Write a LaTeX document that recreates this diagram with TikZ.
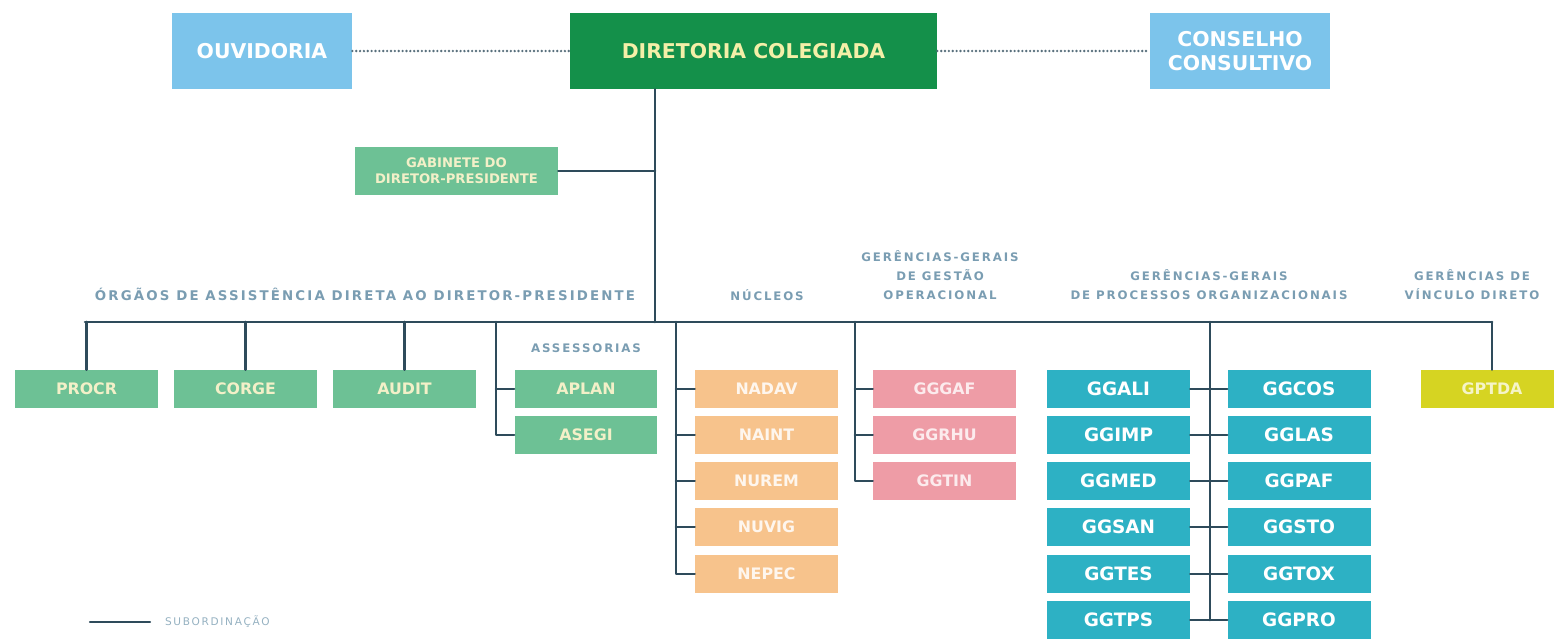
\documentclass[tikz,border=0pt]{standalone}
\usepackage{fontspec}
\setmainfont{DejaVu Sans}
\newfontfamily\headfont{DejaVu Sans}[LetterSpace=16]
\definecolor{skyblue}{HTML}{7CC4EB}
\definecolor{boardgreen}{HTML}{14904A}
\definecolor{paleyellow}{HTML}{F4EFA8}
\definecolor{mint}{HTML}{6DC195}
\definecolor{cream}{HTML}{F3F0C8}
\definecolor{peach}{HTML}{F7C38C}
\definecolor{rose}{HTML}{EE9CA6}
\definecolor{ggteal}{HTML}{2DB1C4}
\definecolor{mustard}{HTML}{D6D422}
\definecolor{slate}{HTML}{2E4B5B}
\definecolor{headgray}{HTML}{7A9DB2}
\tikzset{
every picture/.append style={
    line join=round,
    line cap=round
  },
topbox/.style={font=\bfseries\fontsize{11.6}{14}\selectfont, text=white, minimum width=3.6cm, minimum height=1.52cm, inner sep=0pt, align=center},
unitbox/.style={font=\bfseries\fontsize{9}{11}\selectfont, minimum width=2.86cm, minimum height=0.76cm, inner sep=0pt},
greenbox/.style={unitbox, fill=mint, text=cream},
peachbox/.style={unitbox, fill=peach, text=white!85!peach},
rosebox/.style={unitbox, fill=rose, text=white!80!rose},
tealbox/.style={unitbox, fill=ggteal, text=white, font=\bfseries\fontsize{10.5}{12}\selectfont},
sub/.style={draw=slate, line width=1.5pt},
tie/.style={draw=slate!80, line width=1.5pt, dash pattern=on 0pt off 2.2pt, line cap=round},
head/.style={font=\headfont\bfseries\fontsize{7.6}{10.8}\selectfont, text=headgray, align=center, inner sep=0pt, anchor=base},
headsmall/.style={head, font=\headfont\bfseries\fontsize{6.7}{10.8}\selectfont}
}
\begin{document}
\begin{tikzpicture}[x=0.02cm,y=-0.02cm]
\useasboundingbox (0,0) rectangle (1554,640);

\node[topbox, fill=skyblue] (ouv) at (262,51) {OUVIDORIA};
\node[topbox, fill=boardgreen, text=paleyellow, minimum width=7.34cm] (dir) at (753.5,51) {DIRETORIA COLEGIADA};
\node[topbox, fill=skyblue] (cons) at (1240,51) {CONSELHO\\CONSULTIVO};
\draw [tie] (ouv) -- (dir);
\draw [tie] (dir) -- (cons);

\coordinate (hub) at (655,322);
\coordinate (busl) at (85,322);
\coordinate (busr) at (1492,322);
\draw [sub] (hub |- dir.south) -- (hub);
\draw [sub] (busl) -- (busr);

\node[greenbox, minimum width=4.06cm, minimum height=0.96cm, align=center, font=\bfseries\fontsize{7.5}{9}\selectfont] (gab) at (456.5,171) {GABINETE DO\\DIRETOR-PRESIDENTE};
\draw [sub] (gab.east) -- (gab.east -| hub);

\node[head] (horg) at (365,300) {ÓRGÃOS DE ASSISTÊNCIA DIRETA AO DIRETOR-PRESIDENTE};
\node[headsmall] (hnuc) at (767,300) {NÚCLEOS};
\node[headsmall] (hges) at (940,299) {GERÊNCIAS-GERAIS\\DE GESTÃO\\OPERACIONAL};
\node[headsmall] (hpro) at (1209,299) {GERÊNCIAS-GERAIS\\DE PROCESSOS ORGANIZACIONAIS};
\node[headsmall] (hvin) at (1472,299) {GERÊNCIAS DE\\VÍNCULO DIRETO};
\node[headsmall] (hass) at (586,352) {ASSESSORIAS};

\node[greenbox] (procr) at (86.5,389) {PROCR};
\node[greenbox] (corge) at (245.5,389) {CORGE};
\node[greenbox] (audit) at (404.5,389) {AUDIT};
\draw [sub] (procr.north |- busl) -- (procr.north);
\draw [sub] (corge.north |- busl) -- (corge.north);
\draw [sub] (audit.north |- busl) -- (audit.north);

\coordinate (ass) at (496,322);
\node[greenbox] (aplan) at (586,389) {APLAN};
\node[greenbox] (asegi) at (586,435) {ASEGI};
\draw [sub] (ass) |- (asegi.west);
\draw [sub] (aplan.west) -- (aplan.west -| ass);

\coordinate (nuc) at (676,322);
\node[peachbox] (nadav) at (766.5,389) {NADAV};
\node[peachbox] (naint) at (766.5,435) {NAINT};
\node[peachbox] (nurem) at (766.5,481) {NUREM};
\node[peachbox] (nuvig) at (766.5,527) {NUVIG};
\node[peachbox] (nepec) at (766.5,574) {NEPEC};
\draw [sub] (nuc) |- (nepec.west);
\draw [sub] (nadav.west) -- (nadav.west -| nuc);
\draw [sub] (naint.west) -- (naint.west -| nuc);
\draw [sub] (nurem.west) -- (nurem.west -| nuc);
\draw [sub] (nuvig.west) -- (nuvig.west -| nuc);

\coordinate (ges) at (855,322);
\node[rosebox] (gggaf) at (944.5,389) {GGGAF};
\node[rosebox] (ggrhu) at (944.5,435) {GGRHU};
\node[rosebox] (ggtin) at (944.5,481) {GGTIN};
\draw [sub] (ges) |- (ggtin.west);
\draw [sub] (gggaf.west) -- (gggaf.west -| ges);
\draw [sub] (ggrhu.west) -- (ggrhu.west -| ges);

\coordinate (pro) at (1210,322);
\coordinate (proend) at (1210,620);
\node[tealbox] (ggali) at (1118.5,389) {GGALI};
\node[tealbox] (ggimp) at (1118.5,435) {GGIMP};
\node[tealbox] (ggmed) at (1118.5,481) {GGMED};
\node[tealbox] (ggsan) at (1118.5,527) {GGSAN};
\node[tealbox] (ggtes) at (1118.5,574) {GGTES};
\node[tealbox] (ggtps) at (1118.5,620) {GGTPS};
\node[tealbox] (ggcos) at (1299,389) {GGCOS};
\node[tealbox] (gglas) at (1299,435) {GGLAS};
\node[tealbox] (ggpaf) at (1299,481) {GGPAF};
\node[tealbox] (ggsto) at (1299,527) {GGSTO};
\node[tealbox] (ggtox) at (1299,574) {GGTOX};
\node[tealbox] (ggpro) at (1299,620) {GGPRO};
\draw [sub] (pro) -- (proend);
\draw [sub] (ggali) -- (ggcos);
\draw [sub] (ggimp) -- (gglas);
\draw [sub] (ggmed) -- (ggpaf);
\draw [sub] (ggsan) -- (ggsto);
\draw [sub] (ggtes) -- (ggtox);
\draw [sub] (ggtps) -- (ggpro);

\node[unitbox, fill=mustard, text=white!75!mustard] (gptda) at (1492,389) {GPTDA};
\draw [sub] (busr) -- (gptda.north);

\coordinate (lega) at (90,622);
\coordinate (legb) at (150,622);
\draw [sub, line width=1.2pt] (lega) -- (legb) node [right=8pt, inner sep=0pt, text=headgray!80, font=\headfont\fontsize{6}{7}\selectfont] (legsub) {SUBORDINAÇÃO};
\end{tikzpicture}
\end{document}
